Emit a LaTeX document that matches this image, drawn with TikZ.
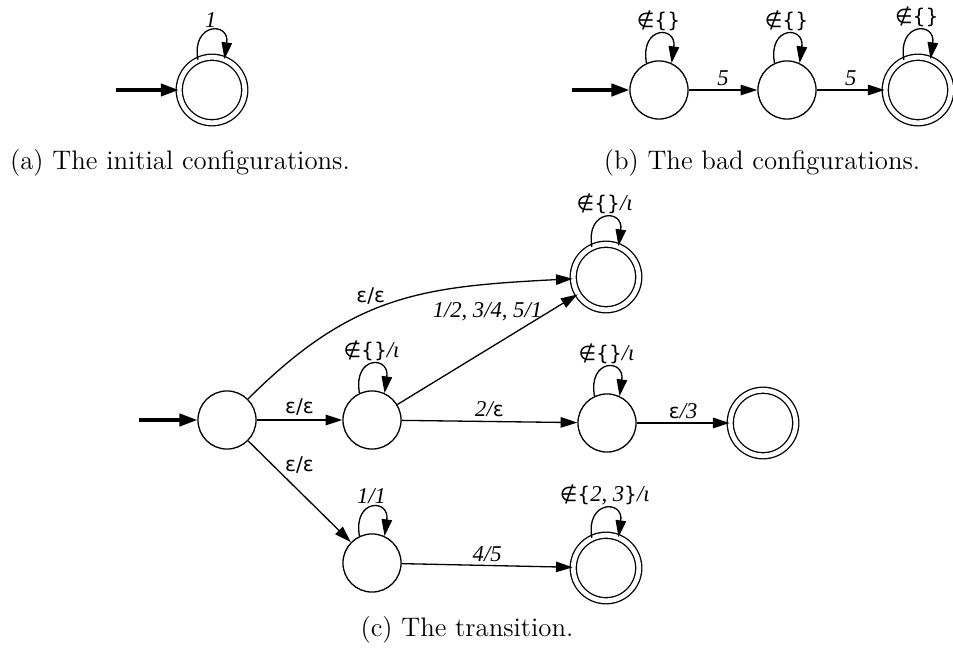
\documentclass[tikz,border=0pt]{standalone}
\usepackage{fontspec}
\newfontfamily\lblfont{Liberation Serif}
\newfontfamily\symfont{DejaVu Sans}
\usetikzlibrary{arrows.meta}
\newcommand{\sy}[1]{{\symfont\upshape\fontsize{8.5}{10}\selectfont #1}}

\begin{document}
\begin{tikzpicture}[x=0.42pt,y=0.42pt,
  state/.style={draw,circle,line width=0.55pt,minimum size=24.4pt,inner sep=0pt},
  accept/.style={state,double,double distance=2pt,minimum size=27.5pt},
  trans/.style={line width=0.55pt,-{Triangle[length=7pt,width=4.4pt]}},
  initarrow/.style={line width=1.3pt,-{Triangle[length=7.5pt,width=5.2pt]}},
  lbl/.style={font=\lblfont\itshape\fontsize{9.5}{11}\selectfont,inner sep=1.5pt},
  captxt/.style={font=\fontsize{11.25}{13.5}\selectfont}]
\useasboundingbox (0,0) rectangle (953,662);
% (a) initial
\node [accept] (qa) at (212,572) {};
\coordinate (sa) at (116,572);
\draw [initarrow] (sa) -- (qa);
\draw [trans] (qa.115) .. controls +(100:38) and +(82:38) .. (qa.68) node[lbl,pos=0.5,above] {1};
\node [captxt] (capa) at (180,499) {(a) The initial configurations.};
% (b) bad
\node [state] (b0) at (659,572) {};
\node [state] (b1) at (787,572) {};
\node [accept] (b2) at (918,572) {};
\coordinate (sb) at (572,572);
\draw [initarrow] (sb) -- (b0);
\draw [trans] (b0) -- (b1) node[lbl,midway,above] {5};
\draw [trans] (b1) -- (b2) node[lbl,midway,above] {5};
\draw [trans] (b0.115) .. controls +(100:38) and +(82:38) .. (b0.65) node[lbl,pos=0.5,above] {\sy{∉\{\}}};
\draw [trans] (b1.115) .. controls +(100:38) and +(82:38) .. (b1.65) node[lbl,pos=0.5,above] {\sy{∉\{\}}};
\draw [trans] (b2.115) .. controls +(100:38) and +(82:38) .. (b2.68) node[lbl,pos=0.5,above] {\sy{∉\{\}}};
\node [captxt] (capb) at (762,499) {(b) The bad configurations.};
% (c) transition
\node [state] (c0) at (227,242) {};
\node [state] (c1) at (372,242) {};
\node [accept] (c2) at (606,385) {};
\node [state] (c3) at (607,239) {};
\node [accept] (c4) at (763,239) {};
\node [state] (c5) at (372,99) {};
\node [accept] (c6) at (606,94) {};
\coordinate (sc) at (139,242);
\draw [initarrow] (sc) -- (c0);
\draw [trans] (c0) -- (c1) node[lbl,midway,above] {\sy{ε/ε}};
\draw [trans] (c0) to[out=45,in=183,looseness=1.1] node[lbl,pos=0.42,above=1pt] {\sy{ε/ε}} (c2);
\draw [trans] (c1) -- (c2) node[lbl,midway,above=10pt] {1/2, 3/4, 5/1};
\draw [trans] (c1) -- (c3) node[lbl,midway,above] {2/\sy{ε}};
\draw [trans] (c3) -- (c4) node[lbl,midway,above] {\sy{ε}/3};
\draw [trans] (c0) -- (c5) node[lbl,midway,above=6pt] {\sy{ε/ε}};
\draw [trans] (c5) -- (c6) node[lbl,midway,above] {4/5};
\draw [trans] (c1.115) .. controls +(100:38) and +(82:38) .. (c1.65) node[lbl,pos=0.5,above] {\sy{∉\{\}}/ι};
\draw [trans] (c2.115) .. controls +(100:38) and +(82:38) .. (c2.68) node[lbl,pos=0.5,above] {\sy{∉\{\}}/ι};
\draw [trans] (c3.115) .. controls +(100:38) and +(82:38) .. (c3.65) node[lbl,pos=0.5,above] {\sy{∉\{\}}/ι};
\draw [trans] (c5.115) .. controls +(100:38) and +(82:38) .. (c5.65) node[lbl,pos=0.5,above] {1/1};
\draw [trans] (c6.115) .. controls +(100:38) and +(82:38) .. (c6.68) node[lbl,pos=0.5,above] {\sy{∉\{}2, 3\sy{\}}/ι};
\node [captxt] (capc) at (467,32) {(c) The transition.};
\end{tikzpicture}
\end{document}
